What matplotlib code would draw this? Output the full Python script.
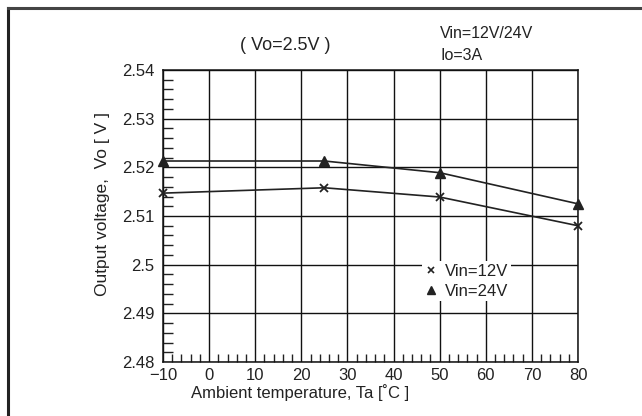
import matplotlib
matplotlib.use('Agg')
from matplotlib import pyplot as plt
from matplotlib.ticker import MultipleLocator
from matplotlib.lines import Line2D

plt.rcParams['font.family'] = ['Liberation Sans', 'DejaVu Sans']

ta = [-10, 25, 50, 80]
vo_12v = [2.5147, 2.5158, 2.5139, 2.5080]
vo_24v = [2.5213, 2.5213, 2.5189, 2.5125]

xticks = [-10, 0, 10, 20, 30, 40, 50, 60, 70, 80]
yticks = [2.48, 2.49, 2.50, 2.51, 2.52, 2.53, 2.54]
ylabels = ['2.48', '2.49', '2.5', '2.51', '2.52', '2.53', '2.54']

txt = '#222222'

fig = plt.figure(figsize=(6.42, 4.16), dpi=100)
ax = fig.add_axes([163/642, 1-362/416, (578-163)/642, (362-70)/416])

# outer border (left and top only)
fig.add_artist(Line2D([8/642, 8/642], [0, 1-8/416], color='#222222', lw=2.2))
fig.add_artist(Line2D([8/642, 1], [1-8/416, 1-8/416], color='#444444', lw=2.2))

ax.plot(ta, vo_12v, color='#222222', lw=1.2, marker='x', ms=6, mew=1.3,
        clip_on=False, zorder=5)
ax.plot(ta, vo_24v, color='#222222', lw=1.2, marker='^', ms=7,
        clip_on=False, zorder=5)

ax.set_xlim(-10, 80)
ax.set_ylim(2.48, 2.54)
ax.set_xticks(xticks)
ax.set_yticks(yticks)
ax.set_yticklabels(ylabels)
ax.set_xticklabels(['\u221210'] + [str(v) for v in xticks[1:]])
ax.xaxis.set_minor_locator(MultipleLocator(2))
ax.yaxis.set_minor_locator(MultipleLocator(0.002))
ax.tick_params(which='both', direction='in', top=False, right=False,
               labelsize=12, labelcolor=txt, color='#222222')
ax.tick_params(which='major', length=0)
ax.tick_params(axis='x', which='major', pad=4)
ax.tick_params(axis='y', which='major', pad=6)
ax.tick_params(axis='x', which='minor', length=6, width=1)
ax.tick_params(axis='y', which='minor', length=7, width=1)
ax.grid(True, which='major', color='#111111', lw=1)
ax.set_axisbelow(True)
for s in ax.spines.values():
    s.set_color('#111111')
    s.set_linewidth(1.1)

ax.set_xlabel('Ambient temperature, Ta [\u02daC ]', fontsize=12, color=txt)
ax.set_ylabel('Output voltage,  Vo [ V ]', fontsize=12.5, color=txt)
ax.xaxis.set_label_coords(0.33, -0.077)
ax.yaxis.set_label_coords(-0.128, 0.54)

handles = [Line2D([], [], ls='none', marker='x', ms=5, mew=1.2, color='#222222'),
           Line2D([], [], ls='none', marker='^', ms=6, color='#222222')]
leg = ax.legend(handles, ['Vin=12V', 'Vin=24V'], loc='upper left',
                bbox_to_anchor=(0.625, 0.345), frameon=True,
                fontsize=12, handlelength=0.7, handletextpad=0.5,
                borderpad=0.15, labelspacing=0.3, borderaxespad=0)
leg.get_frame().set_facecolor('white')
leg.get_frame().set_edgecolor('none')
leg.get_frame().set_alpha(1)
for t in leg.get_texts():
    t.set_color(txt)

fig.text(285/642, 1-45/416, '( Vo=2.5V )', fontsize=13, color=txt, ha='center', va='center')
fig.text(440/642, 1-33/416, 'Vin=12V/24V', fontsize=11.5, color=txt, ha='left', va='center')
fig.text(440/642, 1-56/416, 'Io=3A', fontsize=11.5, color=txt, ha='left', va='center')

fig.savefig('out.png', dpi=100, facecolor='white')
